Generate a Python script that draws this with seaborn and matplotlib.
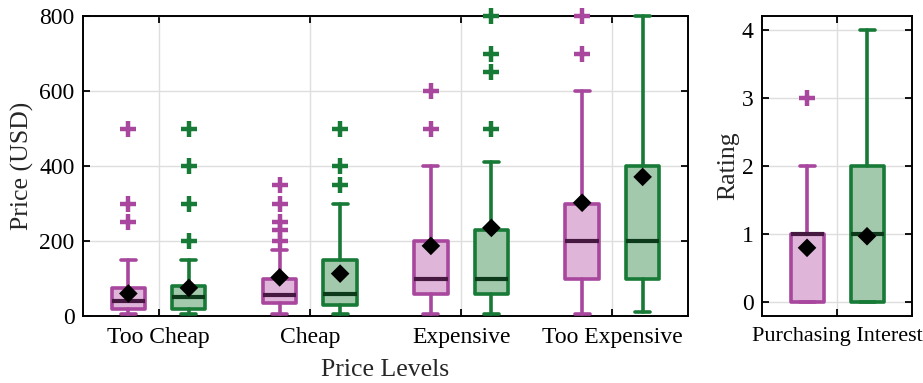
import matplotlib
matplotlib.use("Agg")
import matplotlib.pyplot as plt
import numpy as np
import pandas as pd
import seaborn as sns

# ---- data -------------------------------------------------------------
price_levels = ["Too Cheap", "Cheap", "Expensive", "Too Expensive"]
groups = ["Group A", "Group B"]

# Group A (purple) price summaries
a_whislo = [5, 5, 5, 5]
a_q1 = [20, 35, 60, 100]
a_med = [40, 55, 100, 200]
a_q3 = [75, 100, 200, 300]
a_whishi = [150, 175, 400, 600]
a_mean = [60, 103, 187, 302]
a_fliers = [[250, 300, 500], [200, 230, 250, 300, 350], [500, 600], [700, 800]]

# Group B (green) price summaries
b_whislo = [5, 5, 5, 10]
b_q1 = [20, 30, 60, 100]
b_med = [50, 60, 100, 200]
b_q3 = [80, 150, 230, 400]
b_whishi = [150, 300, 410, 800]
b_mean = [75, 113, 235, 371]
b_fliers = [[200, 300, 400, 500], [350, 400, 500], [500, 650, 700, 800], []]

# Purchasing interest rating summaries (Group A, Group B)
rating_label = ["Purchasing Interest"]
r_whislo = [0, 0]
r_q1 = [0, 0]
r_med = [1, 1]
r_q3 = [1, 2]
r_whishi = [2, 4]
r_mean = [0.8, 0.97]
r_fliers = [[3], []]

# ---- style ------------------------------------------------------------
sns.set_theme(style="ticks")
plt.rcParams["font.family"] = ["Liberation Serif", "DejaVu Serif"]
plt.rcParams["mathtext.fontset"] = "stix"

edge_colors = ["#a8479d", "#177a37"]
fill_colors = ["#dfb6d9", "#a3c9ad"]
median_colors = ["#461a40", "#0e3a1c"]
palette = dict(zip(groups, edge_colors))

offset = 0.2
box_w = 0.22
lw = 2.6
tick_fs = 17
label_fs = 18.5


def stats_dict(lo, q1, med, q3, hi, mean, fl):
    return dict(whislo=lo, q1=q1, med=med, q3=q3, whishi=hi, mean=mean,
                fliers=np.asarray(fl, dtype=float), label="")


def draw_group(ax, positions, stats, k):
    art = ax.bxp(
        stats, positions=positions, widths=box_w, patch_artist=True,
        showmeans=False, showfliers=True, manage_ticks=False,
        boxprops=dict(facecolor=fill_colors[k], edgecolor=edge_colors[k],
                      linewidth=lw, joinstyle="round"),
        whiskerprops=dict(color=edge_colors[k], linewidth=lw),
        capprops=dict(color=edge_colors[k], linewidth=lw),
        capwidths=0.1,
        medianprops=dict(color=median_colors[k], linewidth=lw + 0.4,
                         solid_capstyle="butt"),
        flierprops=dict(marker="+", markersize=11, markeredgewidth=3.2,
                        markeredgecolor=edge_colors[k], linestyle="none"),
    )
    for group in art.values():
        for a in group:
            a.set_clip_on(False)
            a.set_zorder(3)
    return art


fig = plt.figure(figsize=(9.23, 3.83), dpi=100)
ax1 = fig.add_axes([0.0899, 0.1749, 0.6555, 0.7833])
ax2 = fig.add_axes([0.8256, 0.1749, 0.1625, 0.7833])

# ---- price panel ------------------------------------------------------
x = np.arange(len(price_levels))
a_stats = [stats_dict(*v) for v in zip(a_whislo, a_q1, a_med, a_q3, a_whishi, a_mean, a_fliers)]
b_stats = [stats_dict(*v) for v in zip(b_whislo, b_q1, b_med, b_q3, b_whishi, b_mean, b_fliers)]
draw_group(ax1, x - offset, a_stats, 0)
draw_group(ax1, x + offset, b_stats, 1)

means_df = pd.DataFrame({
    "pos": np.concatenate([x - offset, x + offset]),
    "mean": a_mean + b_mean,
    "group": [groups[0]] * len(x) + [groups[1]] * len(x),
})
sns.scatterplot(data=means_df, x="pos", y="mean", marker="D", color="black",
                s=90, edgecolor="none", legend=False, zorder=5, clip_on=False, ax=ax1)

ax1.set_xlim(-0.5, len(price_levels) - 0.5)
ax1.set_ylim(0, 800)
ax1.set_xticks(x)
ax1.set_xticklabels(price_levels)
ax1.set_yticks([0, 200, 400, 600, 800])
ax1.set_xlabel("Price Levels", fontsize=label_fs, labelpad=7.5)
ax1.set_ylabel("Price (USD)", fontsize=label_fs, labelpad=4)

# ---- rating panel -----------------------------------------------------
r_stats = [stats_dict(*v) for v in zip(r_whislo, r_q1, r_med, r_q3, r_whishi, r_mean, r_fliers)]
draw_group(ax2, [-offset], [r_stats[0]], 0)
draw_group(ax2, [offset], [r_stats[1]], 1)
rating_df = pd.DataFrame({"pos": [-offset, offset], "mean": r_mean, "group": groups})
sns.scatterplot(data=rating_df, x="pos", y="mean", marker="D", color="black",
                s=90, edgecolor="none", legend=False, zorder=5, clip_on=False, ax=ax2)
ax2.set_xlim(-0.5, 0.5)
ax2.set_ylim(-0.2, 4.2)
ax2.set_xticks([0])
ax2.set_xticklabels(rating_label)
ax2.set_yticks([0, 1, 2, 3, 4])
ax2.set_xlabel("")
ax2.set_ylabel("Rating", fontsize=label_fs, labelpad=2)

for ax in (ax1, ax2):
    ax.grid(True, color="#dedede", linewidth=1.0, zorder=0)
    ax.set_axisbelow(True)
    ax.tick_params(direction="in", top=True, right=True, length=5, width=1.3,
                   labelsize=tick_fs, pad=6, colors="black")
    ax.tick_params(axis="x", pad=8)
    for s in ax.spines.values():
        s.set_linewidth(1.4)
        s.set_color("black")
        s.set_visible(True)

for lbl in ax2.get_xticklabels():
    lbl.set_fontsize(16)

fig.savefig("out.png", dpi=100)
